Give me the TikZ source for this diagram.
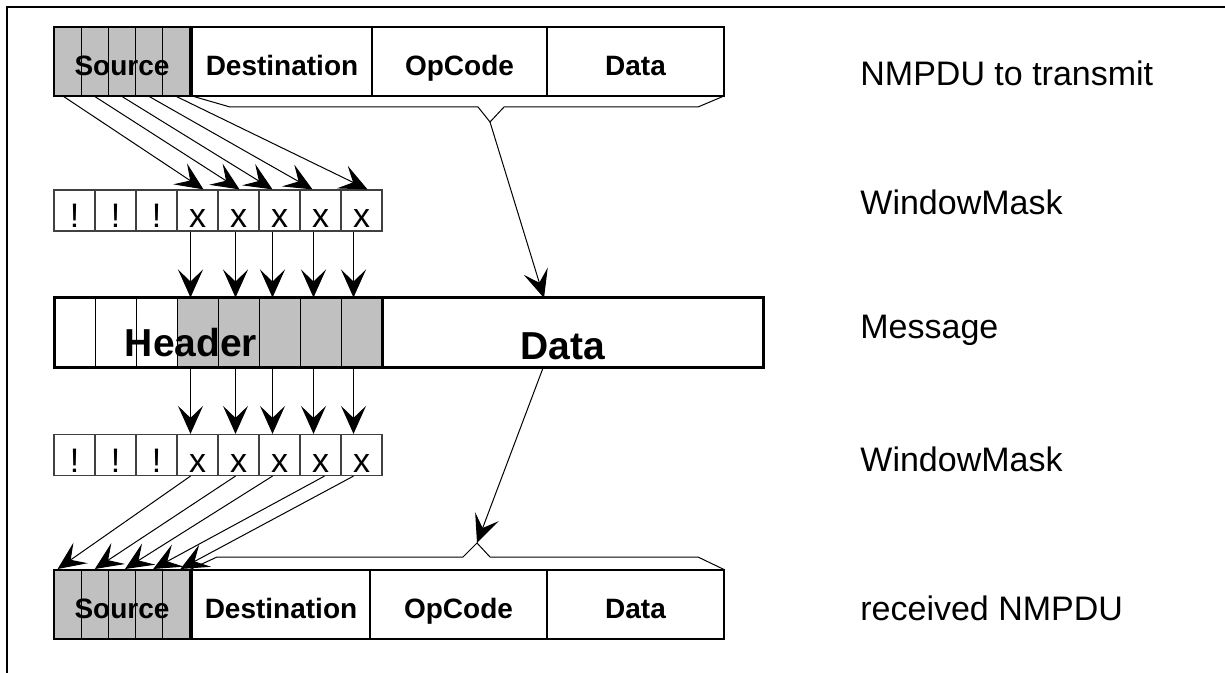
\documentclass[tikz,border=0pt]{standalone}
\usepackage{fontspec}
\setmainfont{Liberation Sans}
\usetikzlibrary{arrows.meta}
\definecolor{cellgray}{RGB}{192,192,192}

\begin{document}
\begin{tikzpicture}[x=0.5pt, y=-0.5pt,
    field/.style={draw, line width=1pt, inner sep=0pt, outer sep=0pt,
      minimum height=34.5pt, text height=24pt, text depth=10pt,
      font=\bfseries\fontsize{14}{16}\selectfont},
    srccell/.style={draw, line width=0.5pt, fill=cellgray, inner sep=0pt,
      minimum width=13.6pt, minimum height=34.5pt},
    maskcell/.style={draw=black!75, line width=0.6pt, inner sep=0pt,
      minimum width=20.5pt, text height=19pt, text depth=1.5pt,
      font=\fontsize{17}{19}\selectfont},
    hdrcell/.style={draw, line width=0.5pt, inner sep=0pt,
      minimum width=20.5pt, minimum height=35pt},
    msgbox/.style={draw, line width=1.5pt, inner sep=0pt, outer sep=0pt,
      minimum height=35pt},
    bigtext/.style={anchor=base, inner sep=0pt, font=\bfseries\fontsize{19.5}{22}\selectfont},
    link/.style={-{Stealth[length=14pt, width=12.5pt, inset=6pt]}, line width=0.5pt},
    tag/.style={anchor=base west, inner sep=0pt, font=\fontsize{17}{19}\selectfont}]
    \useasboundingbox (0,0) rectangle (1225,673);

    % Frame
    \draw[line width=1.3pt] (7,673) -- (7,7) -- (1225,7);

    % NMPDU to transmit
    \node[srccell] (ts1) at (67.6,61.5) {}; \node[srccell] (ts2) at (94.8,61.5) {};
    \node[srccell] (ts3) at (122,61.5) {}; \node[srccell] (ts4) at (149.2,61.5) {};
    \node[srccell] (ts5) at (176.4,61.5) {};
    \node[field, minimum width=68pt] (tsrc) at (122,61.5) {Source};
    \node[field, minimum width=90pt] (tdst) at (282,61.5) {Destination};
    \node[field, minimum width=87.5pt] (topc) at (459.5,61.5) {OpCode};
    \node[field, minimum width=88.5pt] (tdat) at (635.5,61.5) {Data};

    % Window mask, transmit side
    \node[maskcell] (a1) at (74.5,210.5) {!}; \node[maskcell] (a2) at (115.5,210.5) {!};
    \node[maskcell] (a3) at (156.5,210.5) {!}; \node[maskcell] (a4) at (197.5,210.5) {x};
    \node[maskcell] (a5) at (238.5,210.5) {x}; \node[maskcell] (a6) at (279.5,210.5) {x};
    \node[maskcell] (a7) at (320.5,210.5) {x}; \node[maskcell] (a8) at (361.5,210.5) {x};

    % Message
    \node[hdrcell] (h1) at (74.5,333) {}; \node[hdrcell] (h2) at (115.5,333) {};
    \node[hdrcell] (h3) at (156.5,333) {}; \node[hdrcell, fill=cellgray] (h4) at (197.5,333) {};
    \node[hdrcell, fill=cellgray] (h5) at (238.5,333) {}; \node[hdrcell, fill=cellgray] (h6) at (279.5,333) {};
    \node[hdrcell, fill=cellgray] (h7) at (320.5,333) {}; \node[hdrcell, fill=cellgray] (h8) at (361.5,333) {};
    \node[msgbox, minimum width=190.5pt] (mdat) at (572.5,333) {};
    \node[msgbox, minimum width=354.5pt] (msg) at (408.5,333) {};
    \node[bigtext] (hdr) at (191,357) {Header};
    \node[bigtext] (mtxt) at (563,360) {Data};

    % Window mask, receive side
    \node[maskcell] (b1) at (74.5,455) {!}; \node[maskcell] (b2) at (115.5,455) {!};
    \node[maskcell] (b3) at (156.5,455) {!}; \node[maskcell] (b4) at (197.5,455) {x};
    \node[maskcell] (b5) at (238.5,455) {x}; \node[maskcell] (b6) at (279.5,455) {x};
    \node[maskcell] (b7) at (320.5,455) {x}; \node[maskcell] (b8) at (361.5,455) {x};

    % received NMPDU
    \node[srccell] (bs1) at (67.6,604) {}; \node[srccell] (bs2) at (94.8,604) {};
    \node[srccell] (bs3) at (122,604) {}; \node[srccell] (bs4) at (149.2,604) {};
    \node[srccell] (bs5) at (176.4,604) {};
    \node[field, minimum width=68pt] (bsrc) at (122,604) {Source};
    \node[field, minimum width=89pt] (bdst) at (281,604) {Destination};
    \node[field, minimum width=88.5pt] (bopc) at (458.5,604) {OpCode};
    \node[field, minimum width=88.5pt] (bdat) at (635.5,604) {Data};

    % Source bits into the mask
    \draw[link] ([xshift=-2pt]ts1.south) -- ([xshift=3pt]a4.north);
    \draw[link] (ts2.south) -- ([xshift=0.5pt]a5.north);
    \draw[link] (ts3.south) -- ([xshift=-3.5pt]a6.north);
    \draw[link] (ts4.south) -- ([xshift=-4pt]a7.north);
    \draw[link] (ts5.south) -- ([xshift=3pt]a8.north);

    % Mask into the header
    \draw[link] ([xshift=-3.5pt]a4.south) -- ([xshift=-3.5pt]h4.north);
    \draw[link] ([xshift=-1.5pt]a5.south) -- ([xshift=-1.5pt]h5.north);
    \draw[link] ([xshift=-3.5pt]a6.south) -- ([xshift=-3.5pt]h6.north);
    \draw[link] ([xshift=-3.5pt]a7.south) -- ([xshift=-3.5pt]h7.north);
    \draw[link] ([xshift=-4pt]a8.south) -- ([xshift=-4pt]h8.north);

    % Header into the mask
    \draw[link] ([xshift=-3.5pt]h4.south) -- ([xshift=-3.5pt]b4.north);
    \draw[link] ([xshift=-1.5pt]h5.south) -- ([xshift=-1.5pt]b5.north);
    \draw[link] ([xshift=-3.5pt]h6.south) -- ([xshift=-3.5pt]b6.north);
    \draw[link] ([xshift=-3.5pt]h7.south) -- ([xshift=-3.5pt]b7.north);
    \draw[link] ([xshift=-4pt]h8.south) -- ([xshift=-4pt]b8.north);

    % Mask into the received source
    \draw[link] ([xshift=-3.5pt]b4.south) -- ([xshift=-5pt]bs1.north);
    \draw[link] ([xshift=-1.5pt]b5.south) -- (bs2.north);
    \draw[link] ([xshift=-3.5pt]b6.south) -- ([xshift=1.5pt]bs3.north);
    \draw[link] ([xshift=2pt]b7.south) -- ([xshift=2pt]bs4.north);
    \draw[link] ([xshift=-4pt]b8.south) -- ([xshift=2pt]bs5.north);

    % Braces and data path
    \draw[line width=0.5pt] (tdst.south west) -- (230,107) -- (478,107) -- (490,122) coordinate (tapex)
      -- (504,107) -- (698,107) -- (tdat.south east);
    \draw[link] (tapex) -- ([xshift=-14.25pt]mdat.north);
    \draw[line width=0.5pt] (bsrc.north east) -- (217,557) -- (463,557) -- (477,543) coordinate (bapex)
      -- (490,557) -- (698,557) -- (bdat.north east);
    \draw[link] ([xshift=-14.75pt]mdat.south) -- (bapex);

    % Row labels
    \node[tag] (lsend) at (860,86) {NMPDU to transmit};
    \node[tag] (lmask1) at (860,215) {WindowMask};
    \node[tag] (lmsg) at (860,339) {Message};
    \node[tag] (lmask2) at (860,471) {WindowMask};
    \node[tag] (lrecv) at (860,620) {received NMPDU};
\end{tikzpicture}
\end{document}
